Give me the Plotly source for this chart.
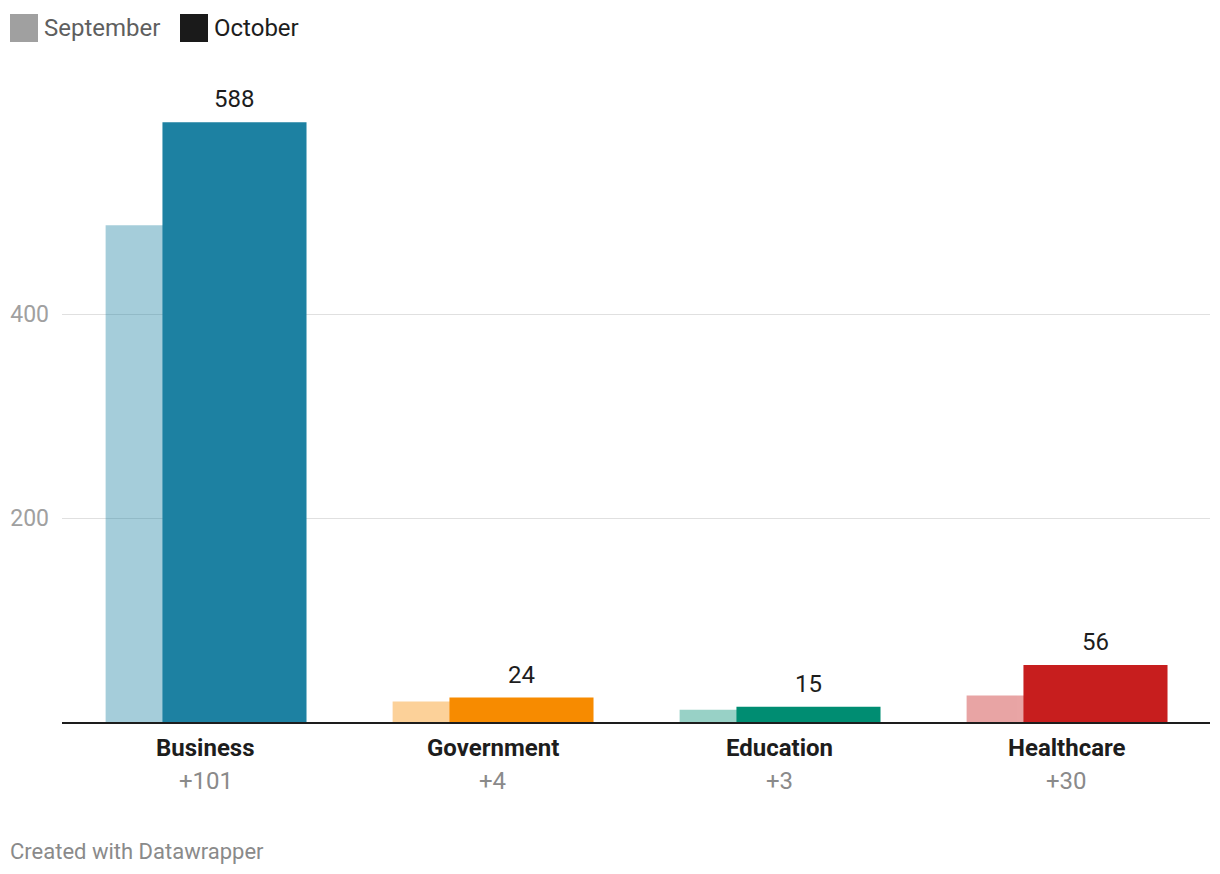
import plotly.graph_objects as go

categories = ["Business", "Government", "Education", "Healthcare"]
september = [487, 20, 12, 26]
october = [588, 24, 15, 56]
colors = ["#1d81a2", "#f78b00", "#008d72", "#c71e1e"]
y_ticks = [200, 400]

# page body offsets the figure by 8px; work in page pixels
OFF = 8
W, H = 1220 - OFF, 874 - OFF
PLOT_L, PLOT_R, PLOT_T, PLOT_B = 62, 1210, 110, 722
ML, MR, MT = PLOT_L - OFF, W - (PLOT_R - OFF), PLOT_T - OFF
MB = H - (PLOT_B - OFF)
PW, PH = PLOT_R - PLOT_L, PLOT_B - PLOT_T


def px_x(p):
    return (p - PLOT_L) / PW


def px_y(p):
    return (PLOT_B - p) / PH


FONT = "Roboto"
fig = go.Figure()
fig.add_trace(go.Bar(
    x=categories, y=september, name="September",
    marker=dict(color=colors, line=dict(width=0)), opacity=0.4,
    offset=-0.348, width=0.5, showlegend=False, hoverinfo="x+y",
))
fig.add_trace(go.Bar(
    x=categories, y=october, name="October",
    marker=dict(color=colors, line=dict(width=0)),
    offset=-0.15, width=0.502, showlegend=False, hoverinfo="x+y",
))

annotations = []
for i, (c, s, o) in enumerate(zip(categories, september, october)):
    annotations.append(dict(
        x=i + 0.101, y=o, xref="x", yref="y", text=str(o), showarrow=False,
        yanchor="bottom", yshift=7, font=dict(family=FONT, size=24, color="#1d1d1d"),
    ))
    annotations.append(dict(
        x=i, y=0, xref="x", yref="paper", text="<b>" + c + "</b>", showarrow=False,
        yanchor="middle", yshift=-26, font=dict(family=FONT, size=24, color="#1d1d1d"),
    ))
    annotations.append(dict(
        x=i, y=0, xref="x", yref="paper", text="+" + str(o - s), showarrow=False,
        yanchor="middle", yshift=-59, font=dict(family=FONT, size=24, color="#8a8a8a"),
    ))

# legend
legend_items = [("September", "#a0a0a0", "#5f5f5f", 10), ("October", "#1a1a1a", "#1d1d1d", 180)]
shapes = []
for name, sq, tc, x0 in legend_items:
    shapes.append(dict(type="rect", xref="paper", yref="paper",
                       x0=px_x(x0), x1=px_x(x0 + 28), y0=px_y(42), y1=px_y(14),
                       fillcolor=sq, line=dict(width=0)))
    annotations.append(dict(x=px_x(x0 + 32), y=px_y(28), xref="paper", yref="paper",
                            text=name, showarrow=False, xanchor="left", yanchor="middle",
                            font=dict(family=FONT, size=24, color=tc)))

annotations.append(dict(x=px_x(8), y=px_y(851), xref="paper", yref="paper",
                        text="Created with Datawrapper", showarrow=False,
                        xanchor="left", yanchor="middle",
                        font=dict(family=FONT, size=22, color="#8a8a8a")))

fig.update_layout(
    width=W, height=H, margin=dict(l=ML, r=MR, t=MT, b=MB, autoexpand=False),
    paper_bgcolor="white", plot_bgcolor="white",
    barmode="overlay", showlegend=False,
    font=dict(family=FONT, size=24, color="#1d1d1d"),
    xaxis=dict(type="category", range=[-0.5, 3.5], showticklabels=False, ticks="",
               showgrid=False, showline=True, linecolor="#1d1d1d", linewidth=2,
               zeroline=False, fixedrange=True, automargin=False),
    yaxis=dict(range=[0, 600], tickvals=y_ticks, ticktext=[str(v) for v in y_ticks],
               showgrid=True, gridcolor="#e0e0e0", gridwidth=1, zeroline=False,
               ticks="", ticklabelstandoff=12, automargin=False,
               tickfont=dict(family=FONT, size=23, color="#a0a0a0"), fixedrange=True),
    annotations=annotations, shapes=shapes,
)

fig.write_html("out.html")
